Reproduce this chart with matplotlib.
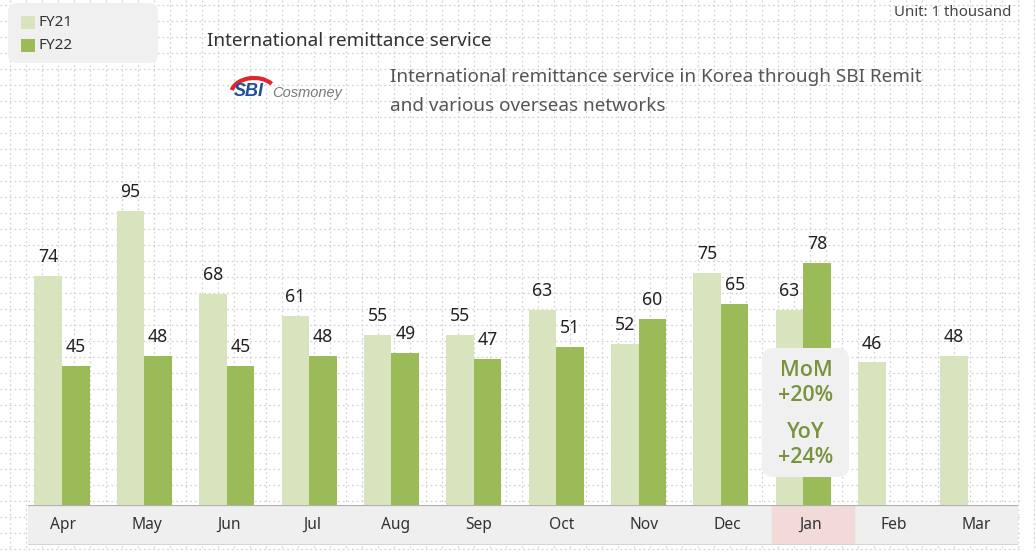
import matplotlib
matplotlib.use("Agg")
import matplotlib.pyplot as plt
from matplotlib.patches import FancyBboxPatch, Rectangle, Arc
import numpy as np

plt.rcParams['font.family'] = ['Noto Sans', 'DejaVu Sans']

# ---------------- data ----------------
months = ["Apr", "May", "Jun", "Jul", "Aug", "Sep", "Oct", "Nov", "Dec", "Jan", "Feb", "Mar"]
fy21 = [74, 95, 68, 61, 55, 55, 63, 52, 75, 63, 46, 48]
fy22 = [45, 48, 45, 48, 49, 47, 51, 60, 65, 78]
series_names = ["FY21", "FY22"]
highlight_month = "Jan"
mom_text = "MoM\n+20%"
yoy_text = "YoY\n+24%"
title = "International remittance service"
desc_lines = ["International remittance service in Korea through SBI Remit",
              "and various overseas networks"]
unit_text = "Unit: 1 thousand"

C21 = "#d7e4bd"
C22 = "#9bbb59"
GREEN_TXT = "#77933c"

W, H = 1036, 553
fig = plt.figure(figsize=(W / 100, H / 100), dpi=100)
fig.patch.set_facecolor("white")


def frac_rect(x0, y0, x1, y1):
    """pixel box (top-left origin) -> figure fraction rect"""
    return [x0 / W, 1 - y1 / H, (x1 - x0) / W, (y1 - y0) / H]


# ---------------- background grid ----------------
bg = fig.add_axes([0, 0, 1, 1], zorder=0)
bg.set_xlim(0, W)
bg.set_ylim(H, 0)
bg.axis("off")
for gx in np.arange(10, W, 16):
    bg.plot([gx, gx], [0, 550], color="#d4d4d4", lw=0.9, ls=(0, (1.5, 2.2)))
for gy in np.arange(5, 551, 16):
    bg.plot([0, 1022], [gy, gy], color="#d4d4d4", lw=0.9, ls=(0, (1.5, 2.2)))

# ---------------- main bars ----------------
X0, X1 = 28, 1018
BASE, TOP = 505, 150
PX_PER_UNIT = 3.1
ax = fig.add_axes(frac_rect(X0, TOP, X1, BASE), zorder=2)
ax.patch.set_alpha(0)
step = 82.36
ax.set_xlim((X0 - 62) / step, (X1 - 62) / step)
ax.set_ylim(0, (BASE - TOP) / PX_PER_UNIT)
ax.axis("off")

bw = 0.334
x = np.arange(len(months))
ax.bar(x[:len(fy21)] - bw / 2, fy21, bw, color=C21, zorder=3)
ax.bar(x[:len(fy22)] + bw / 2, fy22, bw, color=C22, zorder=3)
for xi, v in zip(x[:len(fy21)] - bw / 2, fy21):
    ax.annotate(str(v), (xi, v), xytext=(0, 10), textcoords="offset points",
                ha="center", va="baseline", fontsize=12.7, color="#222222")
for xi, v in zip(x[:len(fy22)] + bw / 2, fy22):
    ax.annotate(str(v), (xi, v), xytext=(0, 10), textcoords="offset points",
                ha="center", va="baseline", fontsize=12.7, color="#222222")

# ---------------- category band ----------------
band = fig.add_axes(frac_rect(X0, BASE, X1, 545), zorder=2)
lstep = 83.0
band.set_xlim((X0 - 63.5) / lstep, (X1 - 63.5) / lstep)
band.set_ylim(0, 1)
band.set_facecolor("#efefef")
for s in band.spines.values():
    s.set_visible(False)
band.set_xticks([])
band.set_yticks([])
hi = months.index(highlight_month)
band.axvspan(hi - 0.46, hi + 0.52, color="#f2dada", zorder=1)
for i, m in enumerate(months):
    band.text(i, 0.5, m, ha="center", va="center", fontsize=11.2, color="#333333", zorder=3)
band.axhline(1, color="#b0b0b0", lw=1.6, zorder=4)
band.axhline(0, color="#d2d2d2", lw=2.0, zorder=4)

# ---------------- overlay: texts, legend, callout ----------------
ov = fig.add_axes([0, 0, 1, 1], zorder=5)
ov.patch.set_alpha(0)
ov.set_xlim(0, W)
ov.set_ylim(H, 0)
ov.axis("off")

# legend
ov.add_patch(FancyBboxPatch((8, 3), 150, 60, boxstyle="round,pad=0,rounding_size=9",
                            fc="#f0f0f0", ec="none"))
ov.add_patch(Rectangle((21, 16), 14, 13, fc=C21, ec="none"))
ov.add_patch(Rectangle((21, 39), 14, 13, fc=C22, ec="none"))
ov.text(38, 22.5, series_names[0], ha="left", va="center", fontsize=11, color="#333333")
ov.text(38, 45.5, series_names[1], ha="left", va="center", fontsize=11, color="#333333")

# title & description
ov.text(207, 41, title, ha="left", va="center", fontsize=13.6, color="#333333")
ov.text(390, 77, desc_lines[0], ha="left", va="center", fontsize=13.6, color="#555555")
ov.text(390, 106, desc_lines[1], ha="left", va="center", fontsize=13.6, color="#555555")
ov.text(1011, 12, unit_text, ha="right", va="center", fontsize=10.8, color="#444444")

# logo
ov.add_patch(Arc((254, 94), 46, 32, theta1=190, theta2=330, color="#e0262b", lw=3.0))
ov.text(249, 92, "SBI", ha="center", va="center", fontsize=13, fontweight="bold",
        style="italic", color="#1f4e96", family=["Liberation Sans", "DejaVu Sans"])
ov.text(272, 93, "Cosmoney", ha="left", va="center", fontsize=10.5, style="italic",
        color="#7a7a7a", family=["Liberation Sans", "DejaVu Sans"])

# callout
ov.add_patch(FancyBboxPatch((762, 348), 87, 129, boxstyle="round,pad=0,rounding_size=12",
                            fc="#f0f0f0", ec="none"))
ov.text(806, 383, mom_text, ha="center", va="center", fontsize=15.5, fontweight="semibold",
        color=GREEN_TXT, linespacing=1.3, family=["Open Sans", "DejaVu Sans"])
ov.text(806, 445, yoy_text, ha="center", va="center", fontsize=15.5, fontweight="semibold",
        color=GREEN_TXT, linespacing=1.3, family=["Open Sans", "DejaVu Sans"])

fig.savefig("out.png", dpi=100)
